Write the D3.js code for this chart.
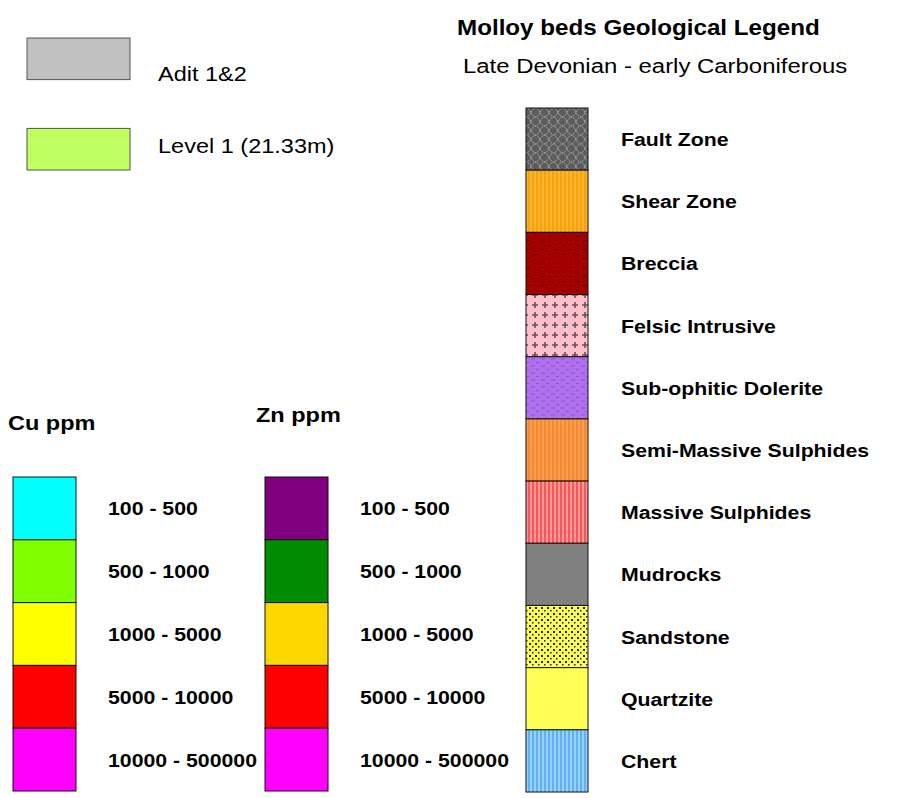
<!DOCTYPE html>
<html>
<head>
<meta charset="utf-8">
<script src="https://cdn.jsdelivr.net/npm/d3@7"></script>
<style>
  body { margin: 0; background: #fff; }
  text { font-family: "Liberation Sans", Arial, sans-serif; }
</style>
</head>
<body>
<svg width="921" height="798"></svg>
<script>
// sample sets
var sampleNames = ['Adit 1&2', 'Level 1 (21.33m)']
var sampleColors = ['#c0c0c0', '#bfff5f']

// assay classes
var ppmRanges = ['100 - 500', '500 - 1000', '1000 - 5000', '5000 - 10000', '10000 - 500000']
var cuColors = ['#00ffff', '#80ff00', '#ffff00', '#ff0000', '#ff00ff']
var znColors = ['#800080', '#008c00', '#ffd700', '#ff0000', '#ff00ff']

// lithology units
var units = ['Fault Zone', 'Shear Zone', 'Breccia', 'Felsic Intrusive', 'Sub-ophitic Dolerite',
  'Semi-Massive Sulphides', 'Massive Sulphides', 'Mudrocks', 'Sandstone', 'Quartzite', 'Chert']
var unitFills = ['url(#p-fault)', 'url(#p-shear)', 'url(#p-breccia)', 'url(#p-felsic)', 'url(#p-dolerite)',
  'url(#p-sms)', 'url(#p-ms)', '#808080', 'url(#p-sand)', '#ffff55', 'url(#p-chert)']

var svg = d3.select('svg')
var defs = svg.append('defs')
var SX = 1.12  // the text in the picture is a bit wide

function pat(id, w, h, bg) {
  var p = defs.append('pattern').attr('id', id)
    .attr('patternUnits', 'userSpaceOnUse').attr('width', w).attr('height', h)
  p.append('rect').attr('width', w).attr('height', h).attr('fill', bg)
  return p
}

// fault zone: grey with light chain-link circles
var pf = pat('p-fault', 9, 9, '#5c5c5c')
pf.append('circle').attr('cx', 4.5).attr('cy', 4.5).attr('r', 4)
  .attr('fill', 'none').attr('stroke', '#b0b0b0').attr('stroke-width', 1).attr('stroke-dasharray', '1.5,1')

// vertical stripe patterns
function stripes(id, bg, fg, w) {
  var p = pat(id, w, 10, bg)
  p.append('rect').attr('x', 0).attr('width', w / 2).attr('height', 10).attr('fill', fg)
}
stripes('p-shear', '#ffb428', '#f2a414', 4)
stripes('p-sms', '#ff9a48', '#ec8a38', 4)
stripes('p-ms', '#ff9494', '#f05a5a', 4)
stripes('p-chert', '#96d2ff', '#62b2f2', 4)

// breccia
var pb = pat('p-breccia', 14, 9, '#a40000')
pb.append('rect').attr('x', 2).attr('y', 2).attr('width', 3).attr('height', 1).attr('fill', '#580000')
pb.append('rect').attr('x', 9).attr('y', 6).attr('width', 3).attr('height', 1).attr('fill', '#580000')

// felsic intrusive crosses
var pfe = pat('p-felsic', 10, 10, '#ffc0cb')
pfe.append('path').attr('d', 'M2,5H8M5,2V8').attr('stroke', '#6a5058').attr('stroke-width', 1.6)

// dolerite small dashes
var pd = pat('p-dolerite', 10, 7, '#b070f0')
pd.append('path').attr('d', 'M1,2H5M6,5.5H9').attr('stroke', '#8a56b8').attr('stroke-width', 1)

// sandstone dots
var ps = pat('p-sand', 6, 6, '#ffff50')
ps.append('rect').attr('x', 1).attr('y', 1).attr('width', 2).attr('height', 2).attr('fill', '#222')
ps.append('rect').attr('x', 4).attr('y', 4).attr('width', 1.5).attr('height', 1.5).attr('fill', '#222')

function label(sel, x, y, size, bold, str, sx) {
  return sel.append('text')
    .attr('transform', 'translate(' + x + ',' + y + ') scale(' + (sx || SX) + ',1)')
    .attr('font-size', size).attr('font-weight', bold ? 'bold' : 'normal').text(str)
}

// ---- top-left sample legend
var ySample = d3.scaleBand().domain(sampleNames).range([38, 170]).paddingInner(0.54)
var ySampleLbl = d3.scalePoint().domain(sampleNames).range([81, 153])
svg.selectAll('.sample').data(sampleNames).enter().append('rect')
  .attr('x', 27).attr('y', function(d) { return ySample(d) })
  .attr('width', 103).attr('height', ySample.bandwidth())
  .attr('fill', function(d, i) { return sampleColors[i] })
  .attr('stroke', '#555').attr('stroke-width', 1)
sampleNames.forEach(function(d) { label(svg, 158, ySampleLbl(d), 21, false, d) })

// ---- geological column
label(svg, 457, 35, 22, true, 'Molloy beds Geological Legend', 1.1)
label(svg, 463, 73, 21, false, 'Late Devonian - early Carboniferous', 1.14)

var yUnit = d3.scaleBand().domain(units).range([108, 792])
svg.selectAll('.unit').data(units).enter().append('rect')
  .attr('x', 526).attr('y', function(d) { return yUnit(d) })
  .attr('width', 62).attr('height', yUnit.bandwidth())
  .attr('fill', function(d, i) { return unitFills[i] })
  .attr('stroke', '#111').attr('stroke-width', 1)
units.forEach(function(d) { label(svg, 621, yUnit(d) + yUnit.bandwidth() / 2 + 7, 19, true, d) })

// ---- Cu / Zn columns
var yRange = d3.scaleBand().domain(ppmRanges).range([477, 791])
function column(x0, title, tx, ty, colors) {
  label(svg, tx, ty, 21, true, title)
  svg.selectAll(null).data(ppmRanges).enter().append('rect')
    .attr('x', x0).attr('y', function(d) { return yRange(d) })
    .attr('width', 63).attr('height', yRange.bandwidth())
    .attr('fill', function(d, i) { return colors[i] })
    .attr('stroke', '#111').attr('stroke-width', 1)
  ppmRanges.forEach(function(d) {
    label(svg, x0 + 95, yRange(d) + yRange.bandwidth() / 2 + 7, 19, true, d)
  })
}
column(13, 'Cu ppm', 8, 430, cuColors)
column(265, 'Zn ppm', 256, 422, znColors)
</script>
</body>
</html>
